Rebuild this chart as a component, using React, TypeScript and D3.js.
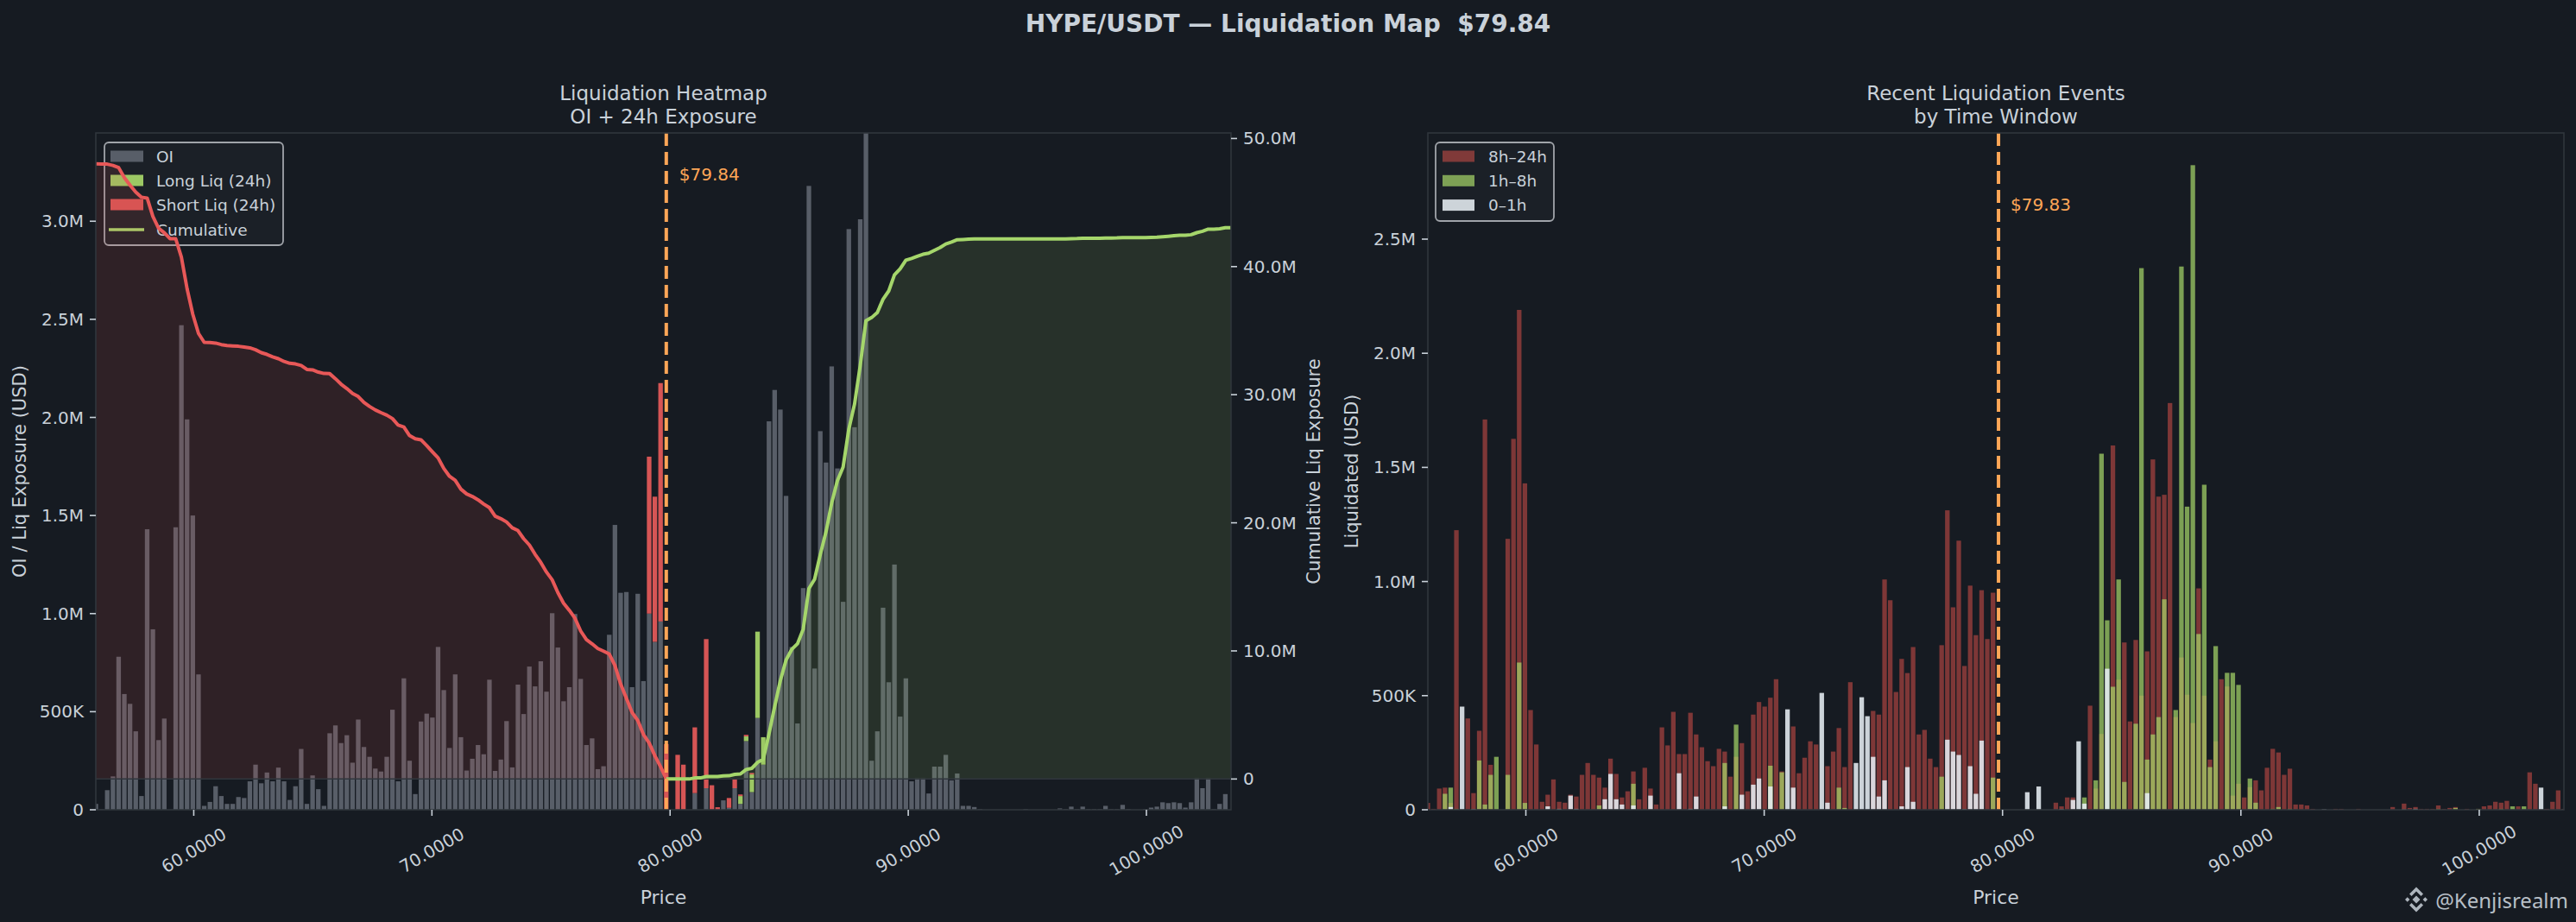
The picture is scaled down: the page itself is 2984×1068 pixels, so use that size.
import React, { useEffect } from 'react';
import * as d3 from 'd3';

// current prices shown on each panel
const PRICE_OI = 79.84;
const PRICE_EVENTS = 79.83;

// price bins (bar centres run from 0.7x to 1.3x the price)
const BIN_START = 55.888;
const BIN_STEP = 0.23952;
const N_BINS = 200;

// open interest per bin, USD millions
const oi = [
  0.03, 0.002, 0.10, 0.17, 0.78, 0.59, 0.54, 0.40, 0.07, 1.43,
  0.92, 0.355, 0.465, 0, 1.44, 2.47, 1.99, 1.50, 0.69, 0.02,
  0.04, 0.12, 0.07, 0.03, 0.03, 0.065, 0.06, 0.145, 0.23, 0.135,
  0.19, 0.145, 0.215, 0.145, 0.05, 0.12, 0.31, 0.03, 0.175, 0.105,
  0.02, 0.39, 0.43, 0.34, 0.38, 0.24, 0.46, 0.32, 0.27, 0.21,
  0.195, 0.27, 0.51, 0.145, 0.67, 0.25, 0.08, 0.45, 0.49, 0.47,
  0.83, 0.61, 0.315, 0.69, 0.37, 0.20, 0.26, 0.33, 0.283, 0.663,
  0.198, 0.256, 0.452, 0.216, 0.638, 0.488, 0.730, 0.629, 0.757, 0.602,
  1.002, 0.827, 0.553, 0.625, 0.998, 0.667, 0.330, 0.364, 0.207, 0.222,
  0.892, 1.452, 1.106, 1.110, 0.625, 1.101, 0.656, 1.00, 0.856, 0.96,
  0, 0, 0, 0, 0, 0.085, 0, 0.11, 0, 0,
  0.048, 0.01, 0.11, 0.03, 0.35, 0.09, 0.468, 0.23, 1.98, 2.14,
  2.04, 1.60, 0.83, 0.44, 1.13, 3.18, 0.72, 1.93, 1.77, 2.26,
  1.74, 1.06, 2.96, 1.95, 3.01, 3.50, 0.25, 0.40, 1.03, 0.65,
  1.25, 0.475, 0.67, 0.145, 0.16, 0.16, 0.083, 0.22, 0.22, 0.28,
  0.15, 0.185, 0.02, 0.02, 0.014, 0.003, 0, 0, 0, 0,
  0, 0, 0, 0.003, 0, 0, 0, 0, 0, 0.007,
  0.003, 0.016, 0.003, 0.016, 0.003, 0.003, 0.003, 0.02, 0.003, 0.003,
  0.025, 0.003, 0, 0, 0.003, 0.011, 0.016, 0.038, 0.034, 0.038,
  0.034, 0.011, 0.038, 0.16, 0.11, 0.16, 0.003, 0.03, 0.08, 0,
];

// 24h liquidations stacked on the OI bars: [bin, USD millions]
const longLiq: [number, number][] = [
  [113, 0.04], [114, 0.024], [115, 0.09], [116, 0.44], [117, 0.14],
];
const shortLiq: [number, number][] = [
  [97, 0.80], [98, 0.74], [99, 1.215], [100, 0.335], [102, 0.28], [103, 0.23],
  [105, 0.335], [107, 0.76], [108, 0.125], [109, 0.013], [111, 0.05],
  [112, 0.045], [113, 0.008], [114, 0.008], [115, 0.008],
];

// recent liquidation events per bin by age, USD millions
const liq8to24 = [
  0.03, 0.004, 0.093, 0.097, 0.03, 1.225, 0, 0.40, 0.073, 0.346,
  1.71, 0.197, 0, 0, 1.187, 1.625, 2.19, 1.43, 0.437, 0.286,
  0.035, 0.066, 0.133, 0.035, 0.031, 0.066, 0.058, 0.153, 0.205, 0.153,
  0.141, 0.097, 0.224, 0.157, 0.054, 0.081, 0.168, 0.046, 0.184, 0.093,
  0.023, 0.361, 0.282, 0.429, 0.244, 0.244, 0.425, 0.33, 0.274, 0.213,
  0.191, 0.267, 0.255, 0.145, 0.232, 0.292, 0.081, 0.417, 0.472, 0.452,
  0.491, 0.572, 0.168, 0, 0.365, 0.16, 0.228, 0.30, 0.286, 0,
  0.191, 0.255, 0.358, 0.187, 0.559, 0, 0, 0, 0.433, 0.417,
  1.009, 0.918, 0.516, 0.661, 0.599, 0.713, 0.33, 0.35, 0.224, 0.187,
  0.721, 1.312, 0.887, 1.179, 0.63, 0.982, 0.765, 0.962, 0.748, 0.951,
  0, 0, 0, 0, 0, 0, 0, 0, 0, 0,
  0.031, 0.015, 0.054, 0.054, 0, 0, 0.456, 0.093, 0.332, 0,
  1.596, 0.57, 0.733, 0.387, 0.744, 0.50, 0.694, 1.535, 1.372, 1.38,
  1.782, 0.406, 0.667, 0.504, 0.38, 0.97, 0.50, 0.22, 0.30, 0.572,
  0.54, 0.062, 0.114, 0.054, 0.099, 0.129, 0.085, 0.184, 0.267, 0.251,
  0.153, 0.18, 0.023, 0.023, 0.019, 0.004, 0, 0, 0, 0.004,
  0.004, 0, 0, 0.004, 0, 0, 0, 0, 0, 0.012,
  0, 0.027, 0.008, 0.012, 0.004, 0.004, 0.004, 0.019, 0.004, 0.008,
  0.012, 0, 0.004, 0, 0.004, 0.015, 0.019, 0.035, 0.031, 0.039,
  0, 0.015, 0, 0.164, 0.114, 0, 0.004, 0.035, 0.085, 0.004,
];
const liq1to8 = [
  0, 0, 0, 0.07, 0.097, 0.004, 0, 0, 0, 0.216,
  0.023, 0.153, 0.232, 0, 0.153, 0, 0.645, 0.03, 0, 0,
  0, 0, 0, 0, 0, 0, 0, 0, 0, 0,
  0.019, 0, 0, 0, 0, 0, 0.114, 0, 0, 0,
  0, 0, 0, 0, 0, 0, 0, 0, 0, 0,
  0, 0, 0.205, 0, 0.373, 0, 0, 0, 0, 0,
  0.193, 0, 0.164, 0, 0, 0, 0, 0, 0, 0,
  0, 0, 0.097, 0.008, 0, 0, 0, 0, 0, 0,
  0, 0, 0, 0, 0, 0, 0, 0, 0, 0,
  0.145, 0, 0, 0, 0, 0, 0, 0, 0, 0.141,
  0, 0, 0, 0, 0, 0, 0, 0, 0, 0,
  0, 0, 0, 0, 0, 0.054, 0, 0.129, 1.56, 0.83,
  0.539, 1.009, 0.122, 0, 0.377, 2.373, 0.22, 0.33, 0.406, 0.922,
  0, 0.437, 2.38, 1.328, 2.824, 0.77, 1.424, 0.187, 0.717, 0,
  0.60, 0.60, 0.547, 0, 0.137, 0.031, 0, 0, 0.004, 0.012,
  0, 0.004, 0, 0, 0, 0, 0, 0, 0, 0,
  0, 0, 0, 0, 0, 0, 0, 0, 0, 0,
  0, 0, 0, 0, 0, 0, 0, 0.004, 0, 0,
  0.008, 0, 0, 0, 0.004, 0, 0, 0, 0.004, 0,
  0.015, 0, 0.015, 0, 0, 0, 0, 0, 0, 0,
];
const liq0to1 = [
  0, 0, 0, 0, 0.012, 0, 0.452, 0, 0.003, 0,
  0, 0, 0, 0, 0, 0, 0, 0, 0, 0,
  0, 0.015, 0, 0.004, 0, 0.062, 0.004, 0, 0, 0,
  0, 0.046, 0.157, 0.046, 0.023, 0, 0.019, 0, 0, 0.062,
  0, 0, 0, 0, 0.160, 0, 0.004, 0.058, 0, 0,
  0, 0, 0.015, 0, 0, 0.066, 0, 0.11, 0.137, 0,
  0.102, 0, 0, 0.44, 0.097, 0, 0, 0, 0, 0.512,
  0.031, 0, 0, 0, 0, 0.205, 0.493, 0.41, 0.232, 0.058,
  0.129, 0, 0, 0.015, 0.187, 0.035, 0, 0, 0, 0,
  0, 0.307, 0.255, 0.24, 0.003, 0.191, 0.07, 0.303, 0, 0,
  0, 0, 0, 0, 0, 0.077, 0, 0.102, 0, 0,
  0, 0.003, 0, 0.043, 0.30, 0.027, 0, 0, 0, 0.618,
  0, 0, 0, 0, 0, 0, 0.073, 0, 0, 0,
  0, 0, 0, 0, 0, 0, 0, 0, 0, 0,
  0, 0, 0, 0, 0, 0, 0, 0, 0, 0,
  0, 0, 0, 0, 0, 0, 0, 0.002, 0, 0,
  0, 0, 0, 0, 0, 0, 0, 0, 0, 0,
  0, 0.002, 0, 0.004, 0, 0, 0, 0, 0, 0,
  0, 0, 0, 0, 0, 0, 0, 0, 0, 0,
  0, 0, 0, 0, 0, 0.097, 0, 0, 0, 0,
];

const priceTicks = [60, 70, 80, 90, 100];
const oiTicks = [0, 0.5, 1, 1.5, 2, 2.5, 3];
const cumTicks = [0, 10, 20, 30, 40, 50];
const eventTicks = [0, 0.5, 1, 1.5, 2, 2.5];
const OI_YMAX = 3.45;

const BG = '#161b22';
const TEXT = '#c9d1d9';
const SPINE = '#30363d';
const OI_C = '#585e68';
const LONG_C = '#9cc864';
const SHORT_C = '#d65555';
const RED_LINE = '#e85858';
const GREEN_LINE = '#a5d66b';
const ORANGE = '#ffa657';
const FONT = 'DejaVu Sans, sans-serif';
const TICK_FS = 20;

const L = { x0: 111, x1: 1426, y0: 154, y1: 938 };
const R = { x0: 1654, x1: 2970, y0: 154, y1: 938 };

const bins = d3.range(N_BINS).map((i) => BIN_START + i * BIN_STEP);

const fmtM = (v: number) => (v === 0 ? '0' : v < 1 ? `${Math.round(v * 1000)}K` : `${v.toFixed(1)}M`);

type Pt = { p: number; v: number };

export default function App() {
  useEffect(() => {
    document.body.style.margin = '0';
    document.body.style.background = BG;
  }, []);

  const xL = d3.scaleLinear().domain([bins[0], bins[N_BINS - 1]]).range([L.x0, L.x1]);
  const xR = d3.scaleLinear().domain([bins[0], bins[N_BINS - 1]]).range([R.x0, R.x1]);
  const yOI = d3.scaleLinear().domain([0, OI_YMAX]).range([L.y1, L.y0]);

  // cumulative OI walking away from the current price
  const pb = d3.bisectCenter(bins, PRICE_OI);
  const below = Array.from(d3.cumsum(oi.slice(0, pb).reverse())).reverse();
  const redCum: Pt[] = bins.slice(0, pb + 1).map((p, i) => ({ p, v: i < pb ? below[i] : 0 }));
  const above = Array.from(d3.cumsum(oi.slice(pb)));
  const greenCum: Pt[] = bins.slice(pb).map((p, k) => ({ p, v: above[k] }));
  const cumMax = d3.max([...redCum, ...greenCum], (d) => d.v) as number;
  const yCum = d3.scaleLinear().domain([-0.05 * cumMax, 1.05 * cumMax]).range([L.y1, L.y0]);

  const evMax = d3.max(bins.map((_, i) => Math.max(liq8to24[i], liq1to8[i], liq0to1[i]))) as number;
  const yEv = d3.scaleLinear().domain([0, 1.05 * evMax]).range([R.y1, R.y0]);

  const bwL = 0.8 * (xL(BIN_STEP) - xL(0));
  const bwR = 0.8 * (xR(BIN_STEP) - xR(0));

  const area = d3.area<Pt>().x((d) => xL(d.p)).y0(yCum(0)).y1((d) => yCum(d.v));
  const line = d3.line<Pt>().x((d) => xL(d.p)).y((d) => yCum(d.v));

  const longMap = new Map(longLiq);

  const tick = { stroke: TEXT, strokeWidth: 1.6 };

  const xAxis = (x: d3.ScaleLinear<number, number>, box: typeof L, key: string) => (
    <g key={key}>
      {priceTicks.map((t) => (
        <g key={t}>
          <line x1={x(t)} x2={x(t)} y1={box.y1} y2={box.y1 + 7} {...tick} />
          <text
            transform={`translate(${x(t)},985) rotate(-30)`}
            textAnchor="middle"
            dominantBaseline="central"
            fontSize={TICK_FS}
            fill={TEXT}
          >
            {t.toFixed(4)}
          </text>
        </g>
      ))}
      <text x={(box.x0 + box.x1) / 2} y={1039} textAnchor="middle" dominantBaseline="central" fontSize={22} fill={TEXT}>
        Price
      </text>
    </g>
  );

  const legendRow = (x: number, y: number, label: string, swatch: React.ReactNode) => (
    <g key={label}>
      {swatch}
      <text x={x} y={y} dominantBaseline="central" fontSize={18.5} fill={TEXT}>
        {label}
      </text>
    </g>
  );

  const evSeries = [
    { name: '8h–24h', data: liq8to24, color: '#e5534b', op: 0.5 },
    { name: '1h–8h', data: liq1to8, color: '#a8d86a', op: 0.7 },
    { name: '0–1h', data: liq0to1, color: '#e6edf3', op: 0.88 },
  ];

  return (
    <svg
      width={2984}
      height={1068}
      style={{ position: 'absolute', left: 0, top: 0, background: BG }}
      fontFamily={FONT}
    >
      <defs>
        <clipPath id="clipL">
          <rect x={L.x0} y={L.y0} width={L.x1 - L.x0} height={L.y1 - L.y0} />
        </clipPath>
        <clipPath id="clipR">
          <rect x={R.x0} y={R.y0} width={R.x1 - R.x0} height={R.y1 - R.y0} />
        </clipPath>
      </defs>
      <rect width={2984} height={1068} fill={BG} />

      <text x={1492} y={37} textAnchor="middle" fontSize={28} fontWeight="bold" fill={TEXT} style={{ whiteSpace: 'pre' }}>
        {`HYPE/USDT — Liquidation Map  $${PRICE_OI.toFixed(2)}`}
      </text>

      {/* ---------- left panel ---------- */}
      <text x={(L.x0 + L.x1) / 2} y={116} textAnchor="middle" fontSize={23} fill={TEXT}>Liquidation Heatmap</text>
      <text x={(L.x0 + L.x1) / 2} y={143} textAnchor="middle" fontSize={23} fill={TEXT}>OI + 24h Exposure</text>

      <g clipPath="url(#clipL)">
        {oi.map((v, i) =>
          v > 0 ? (
            <rect key={i} x={xL(bins[i]) - bwL / 2} y={yOI(v)} width={bwL} height={yOI(0) - yOI(v)} fill={OI_C} />
          ) : null
        )}
        {longLiq.map(([i, v]) => (
          <rect key={'l' + i} x={xL(bins[i]) - bwL / 2} y={yOI(oi[i] + v)} width={bwL}
            height={yOI(oi[i]) - yOI(oi[i] + v)} fill={LONG_C} />
        ))}
        {shortLiq.map(([i, v]) => {
          const base = oi[i] + (longMap.get(i) ?? 0);
          return (
            <rect key={'s' + i} x={xL(bins[i]) - bwL / 2} y={yOI(base + v)} width={bwL}
              height={yOI(base) - yOI(base + v)} fill={SHORT_C} />
          );
        })}
      </g>

      {/* legend sits under the twin-axis fills */}
      <rect x={121} y={165} width={207} height={119} rx={5} fill="#1c2128" fillOpacity={0.9} stroke="#a0a4aa" strokeWidth={1.8} />
      {legendRow(181, 181, 'OI', <rect x={128} y={174.5} width={38} height={13} fill={OI_C} />)}
      {legendRow(181, 209, 'Long Liq (24h)', <rect x={128} y={202.5} width={38} height={13} fill={LONG_C} />)}
      {legendRow(181, 237, 'Short Liq (24h)', <rect x={128} y={230.5} width={38} height={13} fill={SHORT_C} />)}
      {legendRow(181, 266, 'Cumulative', <line x1={126} x2={167} y1={266} y2={266} stroke={GREEN_LINE} strokeWidth={3.5} />)}

      <g clipPath="url(#clipL)">
        <path d={area(redCum) ?? ''} fill="#e5534b" fillOpacity={0.12} />
        <path d={area(greenCum) ?? ''} fill={GREEN_LINE} fillOpacity={0.12} />
        <line x1={L.x0} x2={L.x1} y1={yCum(0)} y2={yCum(0)} stroke={SPINE} strokeWidth={1.5} />
        <path d={line(redCum) ?? ''} fill="none" stroke={RED_LINE} strokeWidth={4} strokeLinejoin="round" />
        <path d={line(greenCum) ?? ''} fill="none" stroke={GREEN_LINE} strokeWidth={4} strokeLinejoin="round" />
        <line x1={xL(PRICE_OI)} x2={xL(PRICE_OI)} y1={L.y0} y2={L.y1} stroke={ORANGE} strokeWidth={4} strokeDasharray="15 7" />
      </g>
      <text x={xL(PRICE_OI) + 15} y={yOI(3.24)} dominantBaseline="central" fontSize={TICK_FS} fill={ORANGE}>
        {`$${PRICE_OI.toFixed(2)}`}
      </text>

      <rect x={L.x0} y={L.y0} width={L.x1 - L.x0} height={L.y1 - L.y0} fill="none" stroke={SPINE} strokeWidth={1.6} />
      {oiTicks.map((t) => (
        <g key={'oi' + t}>
          <line x1={L.x0 - 7} x2={L.x0} y1={yOI(t)} y2={yOI(t)} {...tick} />
          <text x={L.x0 - 14} y={yOI(t)} textAnchor="end" dominantBaseline="central" fontSize={TICK_FS} fill={TEXT}>{fmtM(t)}</text>
        </g>
      ))}
      {cumTicks.map((t) => (
        <g key={'cum' + t}>
          <line x1={L.x1} x2={L.x1 + 7} y1={yCum(t)} y2={yCum(t)} {...tick} />
          <text x={L.x1 + 14} y={yCum(t)} dominantBaseline="central" fontSize={TICK_FS} fill={TEXT}>{fmtM(t)}</text>
        </g>
      ))}
      {xAxis(xL, L, 'xl')}
      <text transform={`translate(23,${(L.y0 + L.y1) / 2}) rotate(-90)`} textAnchor="middle" dominantBaseline="central" fontSize={21} fill={TEXT}>
        OI / Liq Exposure (USD)
      </text>
      <text transform={`translate(1522,${(L.y0 + L.y1) / 2}) rotate(-90)`} textAnchor="middle" dominantBaseline="central" fontSize={21} fill={TEXT}>
        Cumulative Liq Exposure
      </text>

      {/* ---------- right panel ---------- */}
      <text x={(R.x0 + R.x1) / 2} y={116} textAnchor="middle" fontSize={23} fill={TEXT}>Recent Liquidation Events</text>
      <text x={(R.x0 + R.x1) / 2} y={143} textAnchor="middle" fontSize={23} fill={TEXT}>by Time Window</text>

      <g clipPath="url(#clipR)">
        {evSeries.map((s) => (
          <g key={s.name} fill={s.color} fillOpacity={s.op}>
            {s.data.map((v, i) =>
              v > 0 ? (
                <rect key={i} x={xR(bins[i]) - bwR / 2} y={yEv(v)} width={bwR} height={yEv(0) - yEv(v)} />
              ) : null
            )}
          </g>
        ))}
        <line x1={xR(PRICE_EVENTS)} x2={xR(PRICE_EVENTS)} y1={R.y0} y2={R.y1} stroke={ORANGE} strokeWidth={4} strokeDasharray="15 7" />
      </g>
      <text x={xR(PRICE_EVENTS) + 14} y={yEv(2.65)} dominantBaseline="central" fontSize={TICK_FS} fill={ORANGE}>
        {`$${PRICE_EVENTS.toFixed(2)}`}
      </text>

      <rect x={1663} y={165} width={137} height={91} rx={5} fill="#1c2128" fillOpacity={0.9} stroke="#a0a4aa" strokeWidth={1.8} />
      {evSeries.map((s, k) =>
        legendRow(1724, 181 + k * 28.3, s.name,
          <rect x={1671} y={174.5 + k * 28.3} width={37} height={13} fill={s.color} fillOpacity={s.op} />)
      )}

      <rect x={R.x0} y={R.y0} width={R.x1 - R.x0} height={R.y1 - R.y0} fill="none" stroke={SPINE} strokeWidth={1.6} />
      {eventTicks.map((t) => (
        <g key={'ev' + t}>
          <line x1={R.x0 - 7} x2={R.x0} y1={yEv(t)} y2={yEv(t)} {...tick} />
          <text x={R.x0 - 14} y={yEv(t)} textAnchor="end" dominantBaseline="central" fontSize={TICK_FS} fill={TEXT}>{fmtM(t)}</text>
        </g>
      ))}
      {xAxis(xR, R, 'xr')}
      <text transform={`translate(1566,${(R.y0 + R.y1) / 2}) rotate(-90)`} textAnchor="middle" dominantBaseline="central" fontSize={21} fill={TEXT}>
        Liquidated (USD)
      </text>

      {/* watermark */}
      <g transform="translate(2799,1042)" fill={TEXT} opacity={0.85}>
        <path d="M0,-4.5 L4.5,0 L0,4.5 L-4.5,0Z" />
        <path d="M-13,0 L-10.3,-2.7 L-7.6,0 L-10.3,2.7Z" />
        <path d="M7.6,0 L10.3,-2.7 L13,0 L10.3,2.7Z" />
        <path d="M-8,-6.5 L0,-14.5 L8,-6.5 L5.5,-4 L0,-9.5 L-5.5,-4Z" />
        <path d="M-8,6.5 L0,14.5 L8,6.5 L5.5,4 L0,9.5 L-5.5,4Z" />
      </g>
      <text x={2975} y={1042} textAnchor="end" dominantBaseline="central" fontSize={24} fontFamily="Noto Sans, sans-serif" fill={TEXT} opacity={0.9}>
        @Kenjisrealm
      </text>
    </svg>
  );
}
